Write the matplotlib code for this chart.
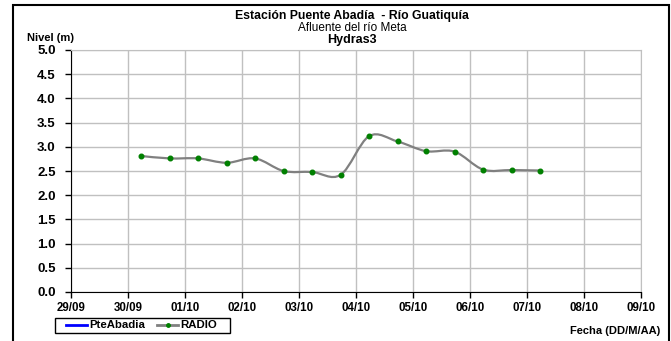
"""Nivel Estación Puente Abadía - Río Guatiquía (Hydras3)."""
import numpy as np
import pandas as pd
import matplotlib
matplotlib.use("Agg")
import matplotlib.pyplot as plt
import matplotlib.dates as mdates
from matplotlib.path import Path
from matplotlib.patches import PathPatch, Rectangle
from matplotlib.lines import Line2D

plt.rcParams["font.family"] = ["Liberation Sans", "DejaVu Sans"]

# lecturas RADIO (cada 12 h)
fechas = pd.to_datetime([
    "2000-09-30 05:30", "2000-09-30 17:30", "2000-10-01 05:30", "2000-10-01 17:30",
    "2000-10-02 05:30", "2000-10-02 17:30", "2000-10-03 05:30", "2000-10-03 17:30",
    "2000-10-04 05:30", "2000-10-04 17:30", "2000-10-05 05:30", "2000-10-05 17:30",
    "2000-10-06 05:30", "2000-10-06 17:30", "2000-10-07 05:30"])
radio = [2.81, 2.76, 2.76, 2.67, 2.76, 2.50, 2.48, 2.42, 3.22,
         3.11, 2.91, 2.90, 2.53, 2.52, 2.51]
xticks = pd.date_range("2000-09-29", "2000-10-09", freq="D")
yticks = np.arange(0, 5.01, 0.5)

W, H = 671, 341
fig = plt.figure(figsize=(W / 100, H / 100), dpi=100)
ax = fig.add_axes([71 / W, 1 - 292 / H, 570 / W, 242 / H])

# suavizado tipo Excel (Catmull-Rom -> Bezier)
xs = mdates.date2num(fechas)
ys = np.array(radio)
verts = [(xs[0], ys[0])]
codes = [Path.MOVETO]
n = len(xs)
for i in range(n - 1):
    p0 = (xs[max(i - 1, 0)], ys[max(i - 1, 0)])
    p1 = (xs[i], ys[i]); p2 = (xs[i + 1], ys[i + 1])
    p3 = (xs[min(i + 2, n - 1)], ys[min(i + 2, n - 1)])
    c1 = (p1[0] + (p2[0] - p0[0]) / 6, p1[1] + (p2[1] - p0[1]) / 6)
    c2 = (p2[0] - (p3[0] - p1[0]) / 6, p2[1] - (p3[1] - p1[1]) / 6)
    verts += [c1, c2, p2]
    codes += [Path.CURVE4] * 3
ax.add_patch(PathPatch(Path(verts, codes), facecolor="none", edgecolor="#808080",
                       lw=1.6, zorder=3))
ax.plot(fechas, radio, ls="none", marker="o", ms=3.3, color="#008000", zorder=4)

ax.set_xlim(xticks[0], xticks[-1])
ax.set_ylim(0, 5)
ax.set_xticks(xticks)
ax.xaxis.set_major_formatter(mdates.DateFormatter("%d/%m"))
ax.set_yticks(yticks)
ax.yaxis.set_major_formatter(matplotlib.ticker.FormatStrFormatter("%.1f"))
ax.grid(True, color="#c0c0c0", lw=1)
ax.set_axisbelow(True)
for s in ("top", "right"):
    ax.spines[s].set_color("#c0c0c0")
for s in ("left", "bottom"):
    ax.spines[s].set_color("black")
ax.tick_params(length=4, width=1)
ax.tick_params(axis="x", labelsize=8.3, pad=3)
ax.tick_params(axis="y", labelsize=9.5, pad=7)
for t in ax.get_xticklabels() + ax.get_yticklabels():
    t.set_fontweight("bold")

cx = 352 / W
fig.text(cx, 1 - 16 / H, "Estación Puente Abadía  - Río Guatiquía", ha="center",
         va="center", fontsize=8.8, fontweight="bold")
fig.text(cx, 1 - 28 / H, "Afluente del río Meta", ha="center", va="center", fontsize=8.5)
fig.text(cx, 1 - 40 / H, "Hydras3", ha="center", va="center", fontsize=9, fontweight="bold")
fig.text(27 / W, 1 - 38 / H, "Nivel (m)", ha="left", va="center", fontsize=8,
         fontweight="bold")
fig.text(660 / W, 1 - 331 / H, "Fecha (DD/M/AA)", ha="right", va="center", fontsize=8,
         fontweight="bold")

# leyenda (marco dibujado aparte, como en Excel)
handles = [Line2D([], [], color="blue", lw=2),
           Line2D([], [], color="#808080", lw=2, marker="o", ms=2.5,
                  markerfacecolor="#008000", markeredgecolor="#008000")]
leg = fig.legend(handles, ["PteAbadia", "RADIO"], loc="center left", ncol=2,
                 bbox_to_anchor=(66 / W, 1 - 325.5 / H), fontsize=8.2, frameon=False,
                 handlelength=1.85, handletextpad=0.15, columnspacing=1.1,
                 borderpad=0, borderaxespad=0)
for t in leg.get_texts():
    t.set_fontweight("bold")
fig.patches.append(Rectangle((55 / W, 1 - 333 / H), 175 / W, 15 / H, fill=False,
                             edgecolor="black", lw=1, transform=fig.transFigure,
                             figure=fig))

# borde exterior del grafico
fig.patches.append(Rectangle((13 / W, -0.1), 656 / W, 1.1 - 5 / H, fill=False,
                             edgecolor="black", lw=1.5, transform=fig.transFigure,
                             figure=fig))

fig.savefig("out.png", dpi=100)
